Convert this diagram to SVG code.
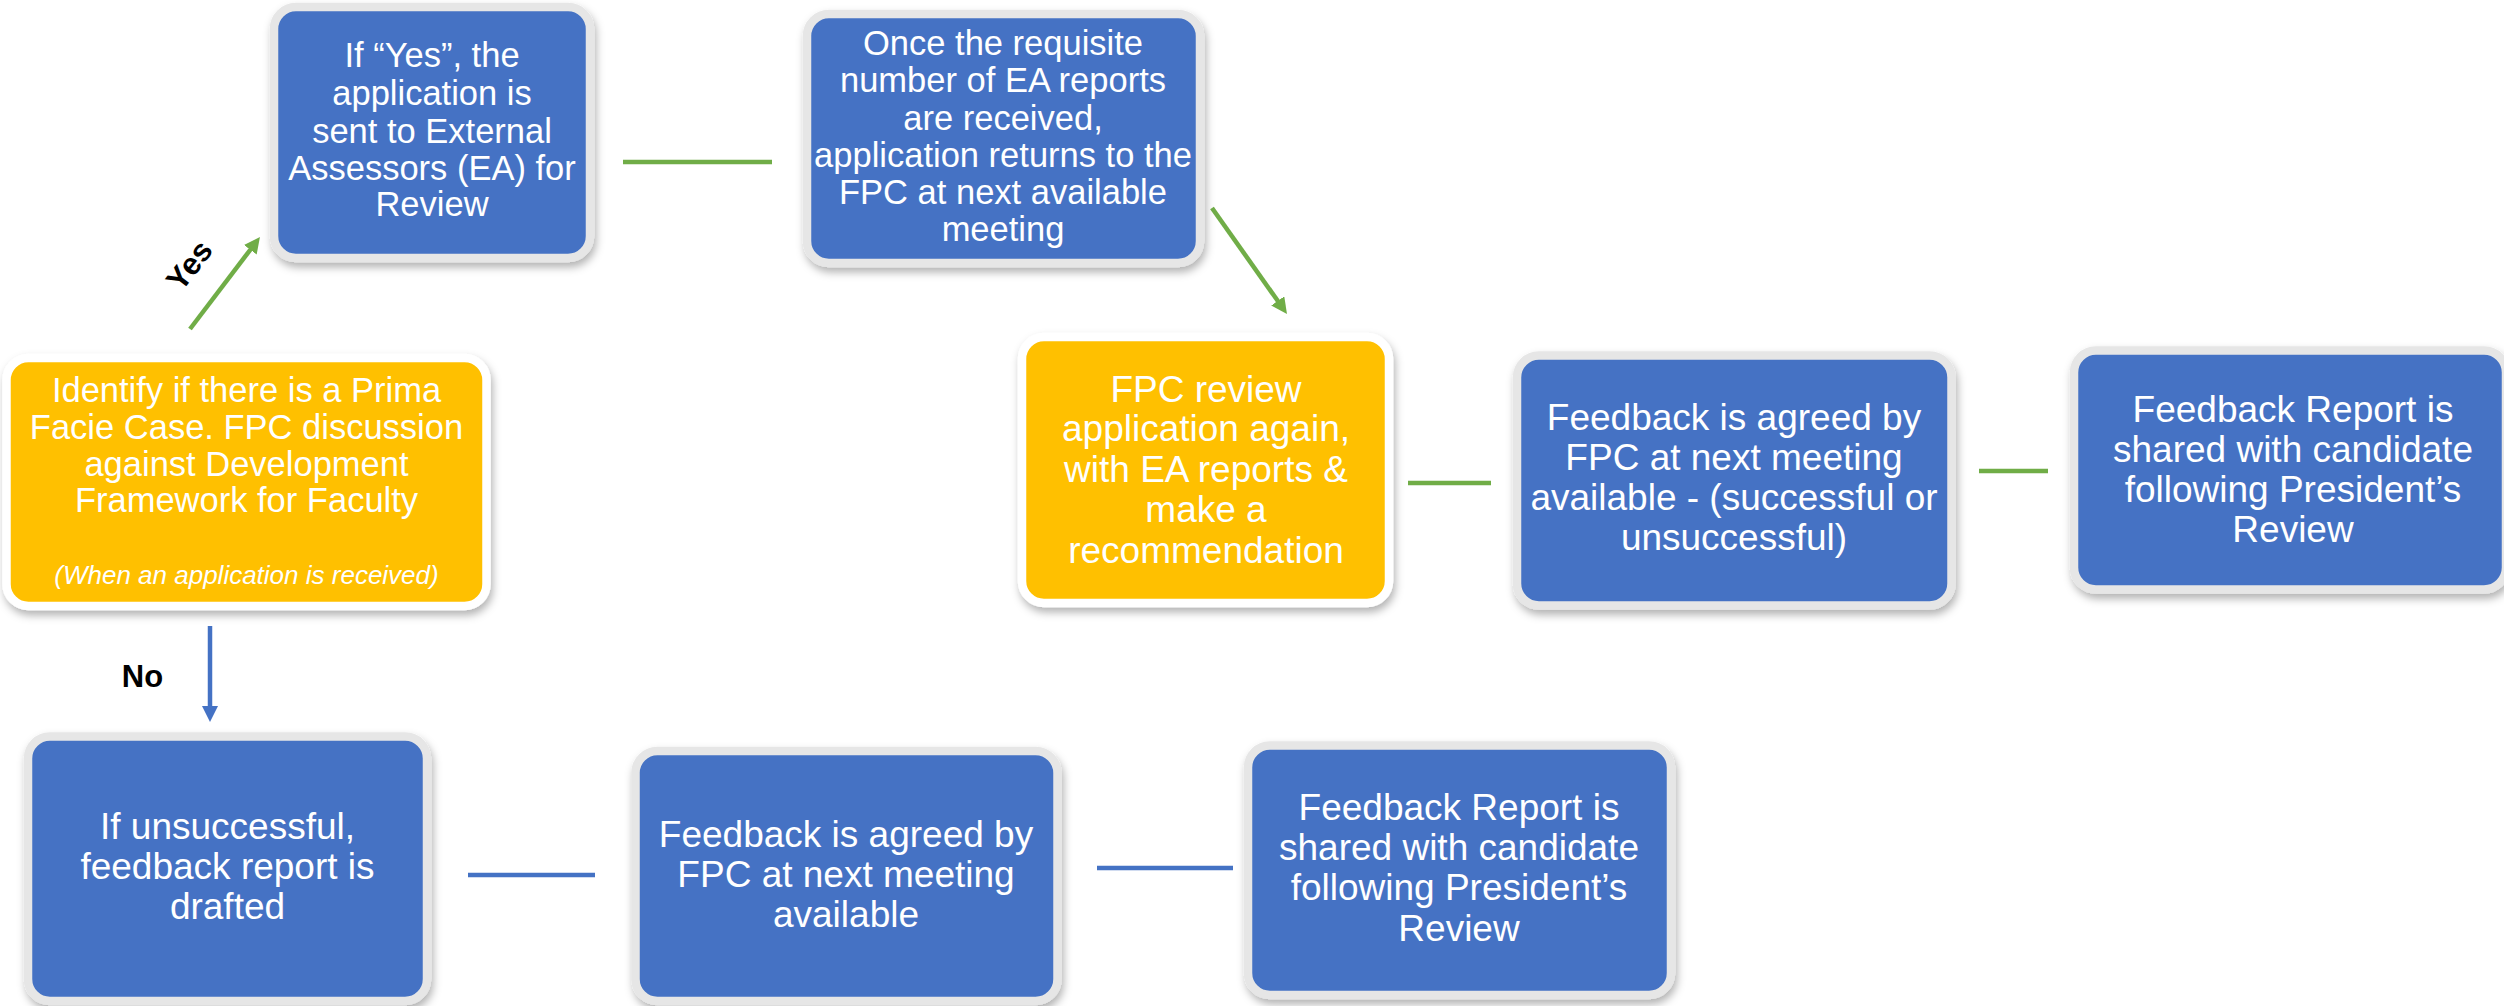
<svg xmlns="http://www.w3.org/2000/svg" width="2504" height="1006" viewBox="0 0 2504 1006">
  <defs>
    <filter id="shadow" x="-10%" y="-10%" width="120%" height="125%">
      <feDropShadow dx="2" dy="5" stdDeviation="4" flood-color="#000" flood-opacity="0.3"/>
    </filter>
    <marker id="head-green" markerUnits="userSpaceOnUse" markerWidth="18" markerHeight="18" refX="6" refY="8" orient="auto">
      <path d="M0,0 L16,8 L0,16 z" fill="#70AD47"/>
    </marker>
    <marker id="head-blue" markerUnits="userSpaceOnUse" markerWidth="18" markerHeight="18" refX="6" refY="8" orient="auto">
      <path d="M0,0 L16,8 L0,16 z" fill="#4472C4"/>
    </marker>
  </defs>
  <style>
    .blue { fill: #4472C4; stroke: #E6E6E6; stroke-width: 8.5; filter: url(#shadow); }
    .gold { fill: #FFC000; stroke: #FFFFFF; stroke-width: 8.5; filter: url(#shadow); }
    .t { font-family: "Liberation Sans", Arial, sans-serif; fill: #FFFFFF; text-anchor: middle; }
    .s { font-size: 34.5px; }
    .m { font-size: 37px; }
    .note { font-size: 26px; font-style: italic; }
    .lbl { font-family: "Liberation Sans", Arial, sans-serif; font-weight: bold; font-size: 31px; fill: #000000; }
    .g { stroke: #70AD47; stroke-width: 4.5; fill: none; }
    .b { stroke: #4472C4; stroke-width: 4.5; fill: none; }
  </style>

  <!-- connectors -->
  <g id="connectors">
    <line class="g" x1="190" y1="329" x2="253.9" y2="245" marker-end="url(#head-green)"/>
    <line class="g" x1="623" y1="162" x2="772" y2="162"/>
    <line class="g" x1="1212" y1="208" x2="1281.2" y2="305.8" marker-end="url(#head-green)"/>
    <line class="g" x1="1408" y1="483" x2="1491" y2="483"/>
    <line class="g" x1="1979" y1="471" x2="2048" y2="471"/>
    <line class="b" x1="210" y1="626" x2="210" y2="712" marker-end="url(#head-blue)"/>
    <line class="b" x1="468" y1="875" x2="595" y2="875"/>
    <line class="b" x1="1097" y1="868" x2="1233" y2="868"/>
    <text class="lbl" x="197.7" y="271.8" text-anchor="middle" transform="rotate(-52 197.7 271.8)">Yes</text>
    <text class="lbl" x="142.5" y="687" text-anchor="middle">No</text>
  </g>

  <!-- decision: prima facie case -->
  <g id="node-prima-facie">
    <rect class="gold" x="6.5" y="358" width="480" height="248" rx="22"/>
    <text class="t s" x="246.5" y="402">Identify if there is a Prima</text>
    <text class="t s" x="246.5" y="439">Facie Case. FPC discussion</text>
    <text class="t s" x="246.5" y="476">against Development</text>
    <text class="t s" x="246.5" y="512">Framework for Faculty</text>
    <text class="t note" x="246.5" y="584">(When an application is received)</text>
  </g>

  <g id="node-external-review">
    <rect class="blue" x="274" y="7" width="316" height="251" rx="22"/>
    <text class="t s" x="432" y="67">If “Yes”, the</text>
    <text class="t s" x="432" y="105">application is</text>
    <text class="t s" x="432" y="143">sent to External</text>
    <text class="t s" x="432" y="180">Assessors (EA) for</text>
    <text class="t s" x="432" y="216">Review</text>
  </g>

  <g id="node-reports-received">
    <rect class="blue" x="807" y="14" width="393" height="249" rx="22"/>
    <text class="t s" x="1003" y="55">Once the requisite</text>
    <text class="t s" x="1003" y="92">number of EA reports</text>
    <text class="t s" x="1003" y="130">are received,</text>
    <text class="t s" x="1003" y="167">application returns to the</text>
    <text class="t s" x="1003" y="204">FPC at next available</text>
    <text class="t s" x="1003" y="241">meeting</text>
  </g>

  <g id="node-fpc-review">
    <rect class="gold" x="1022" y="337" width="367" height="266" rx="22"/>
    <text class="t m" x="1206" y="402">FPC review</text>
    <text class="t m" x="1206" y="441">application again,</text>
    <text class="t m" x="1206" y="482">with EA reports &amp;</text>
    <text class="t m" x="1206" y="522">make a</text>
    <text class="t m" x="1206" y="563">recommendation</text>
  </g>

  <g id="node-feedback-agreed-outcome">
    <rect class="blue" x="1517" y="355.5" width="434.5" height="250" rx="22"/>
    <text class="t m" x="1734" y="430">Feedback is agreed by</text>
    <text class="t m" x="1734" y="470">FPC at next meeting</text>
    <text class="t m" x="1734" y="510">available - (successful or</text>
    <text class="t m" x="1734" y="550">unsuccessful)</text>
  </g>

  <g id="node-report-shared-top">
    <rect class="blue" x="2074" y="350.5" width="432" height="239" rx="22"/>
    <text class="t m" x="2293" y="422">Feedback Report is</text>
    <text class="t m" x="2293" y="462">shared with candidate</text>
    <text class="t m" x="2293" y="502">following President’s</text>
    <text class="t m" x="2293" y="542">Review</text>
  </g>

  <g id="node-report-drafted">
    <rect class="blue" x="28" y="736.5" width="399" height="264.5" rx="22"/>
    <text class="t m" x="227.5" y="839">If unsuccessful,</text>
    <text class="t m" x="227.5" y="879">feedback report is</text>
    <text class="t m" x="227.5" y="919">drafted</text>
  </g>

  <g id="node-feedback-agreed">
    <rect class="blue" x="635.5" y="751" width="422" height="250" rx="22"/>
    <text class="t m" x="846" y="847">Feedback is agreed by</text>
    <text class="t m" x="846" y="887">FPC at next meeting</text>
    <text class="t m" x="846" y="927">available</text>
  </g>

  <g id="node-report-shared-bottom">
    <rect class="blue" x="1248" y="745.5" width="423" height="249.5" rx="22"/>
    <text class="t m" x="1459" y="820">Feedback Report is</text>
    <text class="t m" x="1459" y="860">shared with candidate</text>
    <text class="t m" x="1459" y="900">following President’s</text>
    <text class="t m" x="1459" y="941">Review</text>
  </g>
</svg>
